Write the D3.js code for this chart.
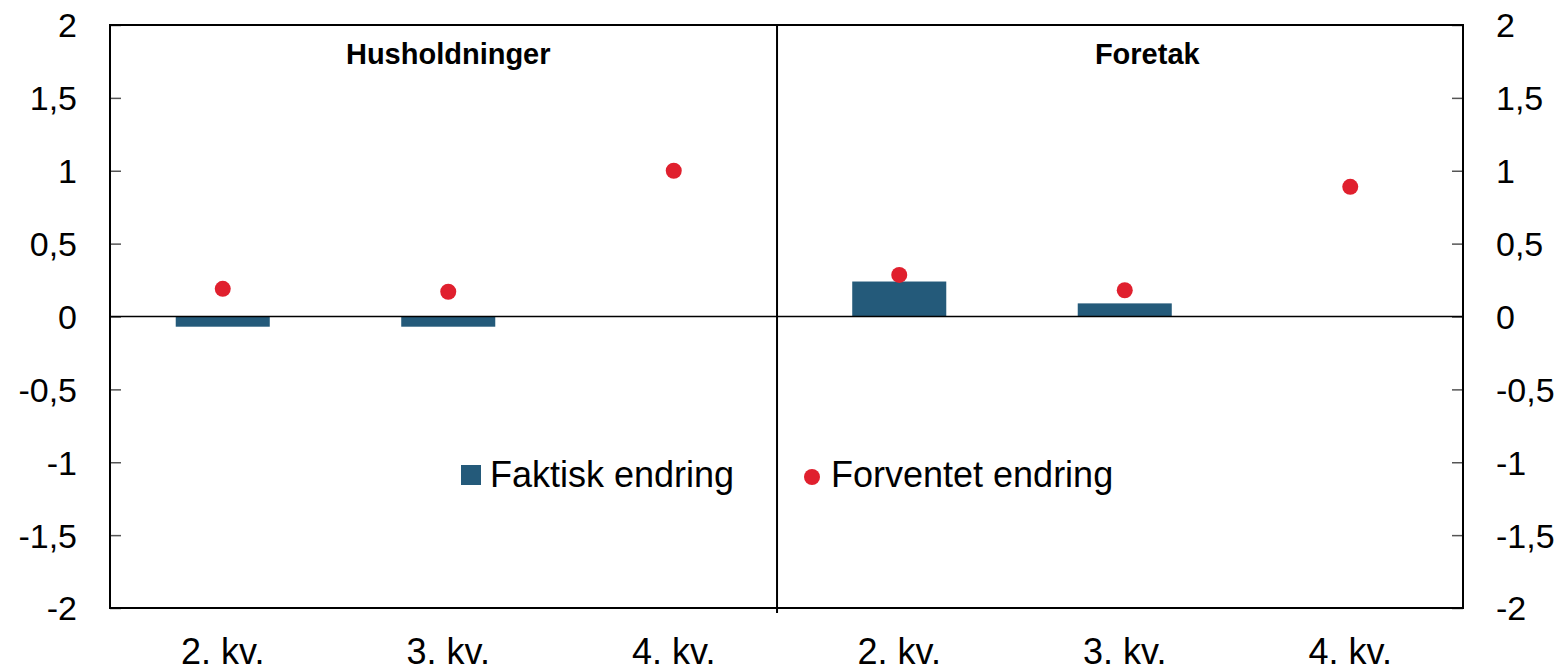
<!DOCTYPE html>
<html>
<head>
<meta charset="utf-8">
<script src="https://cdn.jsdelivr.net/npm/d3@7"></script>
<style>
  body { margin: 0; background: #fff; }
  text { font-family: "Liberation Sans", Arial, sans-serif; fill: #000; }
</style>
</head>
<body>
<script>
'use strict';

// chart data
const groups = ['Husholdninger', 'Foretak'];
const quarters = ['2. kv.', '3. kv.', '4. kv.'];
const actualChange = [-0.07, -0.07, null, 0.24, 0.09, null];
const expectedChange = [0.19, 0.17, 1.0, 0.285, 0.18, 0.89];
const yTicks = [-2, -1.5, -1, -0.5, 0, 0.5, 1, 1.5, 2];
const legendLabels = ['Faktisk endring', 'Forventet endring'];

const W = 1562, H = 667;
const m = { left: 110, right: 1463, top: 25, bottom: 608 };
const barColor = '#245a7a';
const dotColor = '#e0202e';

const svg = d3.select('body').append('svg')
  .attr('width', W)
  .attr('height', H);

// one slot per group/quarter combination
const slots = d3.range(groups.length * quarters.length);

const x = d3.scaleBand()
  .domain(slots)
  .range([m.left, m.right])
  .padding(0);

const y = d3.scaleLinear()
  .domain([-2, 2])
  .range([m.bottom, m.top]);

const barW = x.bandwidth() * 0.417;
const cx = i => x(i) + x.bandwidth() / 2;

// norwegian number format with plain hyphen
const fmt = d3.formatLocale({ decimal: ',', thousands: ' ', grouping: [3], currency: ['', ''], minus: '-' }).format('');

// left axis, ticks pointing inward
const yLeft = svg.append('g')
  .attr('transform', 'translate(' + m.left + ',0)')
  .call(d3.axisLeft(y).tickValues(yTicks).tickFormat(fmt).tickSize(-11).tickPadding(33));

// right axis
const yRight = svg.append('g')
  .attr('transform', 'translate(' + m.right + ',0)')
  .call(d3.axisRight(y).tickValues(yTicks).tickFormat(fmt).tickSize(-11).tickPadding(33));

[yLeft, yRight].forEach(g => {
  g.select('.domain').remove();
  g.selectAll('line').attr('stroke', '#555').attr('stroke-width', 1.5);
  g.selectAll('text').style('font-size', '34px').attr('dy', '0.35em');
});

// bottom category labels
const xAxis = svg.append('g')
  .attr('transform', 'translate(0,' + m.bottom + ')')
  .call(d3.axisBottom(x).tickFormat(i => quarters[i % quarters.length]).tickSize(0).tickPadding(30));
xAxis.select('.domain').remove();
xAxis.selectAll('text').style('font-size', '36px');

// bars
svg.selectAll('.bar')
  .data(actualChange.map((v, i) => ({ v: v, i: i })).filter(d => d.v !== null))
  .enter()
  .append('rect')
    .attr('class', 'bar')
    .attr('x', d => cx(d.i) - barW / 2)
    .attr('width', barW)
    .attr('y', d => y(Math.max(0, d.v)))
    .attr('height', d => Math.abs(y(d.v) - y(0)))
    .attr('fill', barColor);

// zero line
svg.append('line')
  .attr('x1', m.left).attr('x2', m.right)
  .attr('y1', y(0)).attr('y2', y(0))
  .attr('stroke', '#000').attr('stroke-width', 1.5);

// frame
svg.append('rect')
  .attr('x', m.left).attr('y', m.top)
  .attr('width', m.right - m.left).attr('height', m.bottom - m.top)
  .attr('fill', 'none').attr('stroke', '#000').attr('stroke-width', 2);

// divider between the two panels
const divX = x(quarters.length) - x.step() * 0.042;
svg.append('line')
  .attr('x1', divX).attr('x2', divX)
  .attr('y1', m.top).attr('y2', m.bottom + 5)
  .attr('stroke', '#000').attr('stroke-width', 2);

// dots
svg.selectAll('.dot')
  .data(expectedChange)
  .enter()
  .append('circle')
    .attr('class', 'dot')
    .attr('cx', (d, i) => cx(i))
    .attr('cy', d => y(d))
    .attr('r', 8)
    .attr('fill', dotColor);

// panel titles
svg.append('text')
  .attr('x', cx(1))
  .attr('y', 64)
  .attr('text-anchor', 'middle')
  .style('font-size', '29px')
  .style('font-weight', 'bold')
  .text(groups[0]);

svg.append('text')
  .attr('x', cx(4) + x.step() * 0.1)
  .attr('y', 64)
  .attr('text-anchor', 'middle')
  .style('font-size', '29px')
  .style('font-weight', 'bold')
  .text(groups[1]);

// legend
svg.append('rect')
  .attr('x', 461).attr('y', 465)
  .attr('width', 20).attr('height', 20)
  .attr('fill', barColor);
svg.append('text')
  .attr('x', 490).attr('y', 487)
  .style('font-size', '36px')
  .text(legendLabels[0]);

svg.append('circle')
  .attr('cx', 812).attr('cy', 477).attr('r', 8)
  .attr('fill', dotColor);
svg.append('text')
  .attr('x', 831).attr('y', 487)
  .style('font-size', '36px')
  .text(legendLabels[1]);
</script>
</body>
</html>
